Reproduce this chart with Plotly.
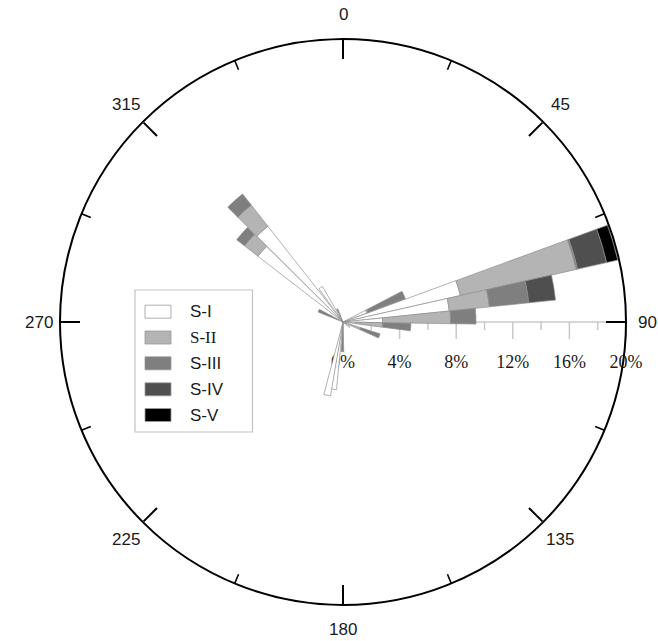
import math
import plotly.graph_objects as go

# Wind direction of each sector (degrees, clockwise from north)
directions = [66.0, 73.6, 80.7, 87.5, 94.3, 111.0, 127.0, 181.0, 187.8, 192.2,
              295.0, 311.2, 318.4, 327.0, 336.0]

# Frequency (%) contributed by each class in every sector (stacked outward)
s_i = [1.8, 8.5, 7.55, 2.8, 0.9, 0.5, 0.6, 0.15, 4.8, 5.3, 0.2, 7.6, 8.6, 2.9, 0.1]
s_ii = [0.1, 8.4, 2.85, 4.8, 1.9, 0.8, 0.0, 0.2, 0.0, 0.0, 0.2, 1.2, 1.9, 0.0, 0.3]
s_iii = [2.8, 0.1, 2.8, 1.8, 2.0, 1.45, 0.0, 1.75, 0.0, 0.0, 1.5, 0.7, 1.0, 0.0, 0.6]
s_iv = [0.0, 2.1, 1.9, 0.0, 0.0, 0.0, 0.0, 0.0, 0.0, 0.0, 0.0, 0.0, 0.0, 0.0, 0.0]
s_v = [0.0, 0.8, 0.0, 0.0, 0.0, 0.0, 0.0, 0.0, 0.0, 0.0, 0.0, 0.0, 0.0, 0.0, 0.0]

class_names = ["S-I", "S-II", "S-III", "S-IV", "S-V"]
class_values = [s_i, s_ii, s_iii, s_iv, s_v]

angle_ticks = [0, 45, 90, 135, 180, 225, 270, 315]
angle_labels = ["0", "45", "90", "135", "180", "225", "270", "315"]
minor_angle_ticks = [22.5, 67.5, 112.5, 157.5, 202.5, 247.5, 292.5, 337.5]

radial_max = 20
radial_ticks = [0, 4, 8, 12, 16, 20]
radial_labels = ["0%", "4%", "8%", "12%", "16%", "20%"]
minor_radial_ticks = [2, 6, 10, 14, 18]

# --- styling ---
colors = ["#ffffff", "#b4b4b4", "#7f7f7f", "#4f4f4f", "#000000"]
sector_width = [7.0, 7.4, 6.8, 6.8, 6.4, 6.6, 6.0, 5.0, 4.6, 5.2,
                6.4, 7.0, 7.0, 6.0, 5.0]
SANS = "Liberation Sans, Arial, sans-serif"
SERIF = "Liberation Serif, Times New Roman, serif"
TEXT = "#1a1a1a"
AXIS_GREY = "#c8c8c8"
W, H = 658, 641
ML, MR, MT, MB = 60, 32, 39, 36
PW, PH = W - ML - MR, H - MT - MB
CX, CY = ML + PW / 2, MT + PH / 2   # pole position in pixels
R = PW / 2                          # outer circle radius in pixels

fig = go.Figure()
for name, vals, col in zip(class_names, class_values, colors):
    fig.add_trace(go.Barpolar(
        theta=directions, r=vals, width=sector_width, name=name,
        marker=dict(color=col, line=dict(color="#8f8f8f", width=0.7)),
        showlegend=False,
    ))

fig.update_layout(
    width=W, height=H,
    margin=dict(l=ML, r=MR, t=MT, b=MB, pad=0),
    paper_bgcolor="white",
    showlegend=False,
    polar=dict(
        domain=dict(x=[0, 1], y=[0, 1]), bgcolor="rgba(0,0,0,0)",
        barmode="stack",
        angularaxis=dict(rotation=90, direction="clockwise", showgrid=False,
                         showline=True, linecolor="#000000", linewidth=2,
                         ticks="inside", tickmode="array", tickvals=angle_ticks,
                         ticklen=19, tickwidth=2, tickcolor="#000000",
                         showticklabels=False),
        # tick marks are transparent here: they only set the label offset
        radialaxis=dict(range=[0, radial_max], angle=0, side="clockwise",
                        showgrid=False, showline=True, linecolor=AXIS_GREY,
                        linewidth=1.5, ticks="outside", tickmode="array",
                        tickvals=radial_ticks, ticktext=radial_labels,
                        ticklen=24, tickwidth=1, tickcolor="rgba(0,0,0,0)",
                        tickangle=0, layer="below traces",
                        tickfont=dict(family=SERIF, size=18, color=TEXT)),
    ),
)


def px(x):
    return (x - ML) / PW


def py(y):
    return (H - MB - y) / PH


# visible ticks under the radial axis: long at 4 % steps, short at 2 % steps
for vals, length in ((radial_ticks, 17), (minor_radial_ticks, 8)):
    for val in vals:
        xv = px(CX + val / radial_max * R)
        fig.add_shape(type="line", xref="paper", yref="paper", layer="below",
                      x0=xv, x1=xv, y0=py(CY), y1=py(CY + length),
                      line=dict(color=AXIS_GREY, width=1.5))

# short inward compass marks between the labelled directions
for ang in minor_angle_ticks:
    a = math.radians(ang)
    fig.add_shape(type="line", xref="paper", yref="paper", layer="below",
                  x0=px(CX + R * math.sin(a)), y0=py(CY - R * math.cos(a)),
                  x1=px(CX + (R - 10) * math.sin(a)),
                  y1=py(CY - (R - 10) * math.cos(a)),
                  line=dict(color="#000000", width=1.6))

# compass labels set a little outside the circle
for ang, lab in zip(angle_ticks, angle_labels):
    a = math.radians(ang)
    off = 21 if ang in (90, 270) else 24
    fig.add_annotation(xref="paper", yref="paper",
                       x=px(CX + (R + off) * math.sin(a)),
                       y=py(CY - (R + off) * math.cos(a)),
                       xanchor="center", yanchor="middle", showarrow=False,
                       text=lab, font=dict(family=SANS, size=17, color=TEXT))

# legend box
fig.add_shape(type="rect", xref="paper", yref="paper",
              x0=px(135), x1=px(252.5), y0=py(432), y1=py(290),
              line=dict(color="#c4c4c4", width=1.2), fillcolor="white")
row_y = [311.7, 337.5, 363.3, 389.3, 415.0]
for name, col, yc in zip(class_names, colors, row_y):
    fig.add_shape(type="rect", xref="paper", yref="paper",
                  x0=px(145), x1=px(171), y0=py(yc + 6.5), y1=py(yc - 6.5),
                  line=dict(color="#9a9a9a", width=0.8), fillcolor=col)
    fam = SERIF if name == "S-II" else SANS
    fig.add_annotation(xref="paper", yref="paper", x=px(188), y=py(yc),
                       xanchor="left", yanchor="middle", showarrow=False,
                       text=name, font=dict(family=fam, size=17, color=TEXT))

fig.write_html("out.html")
